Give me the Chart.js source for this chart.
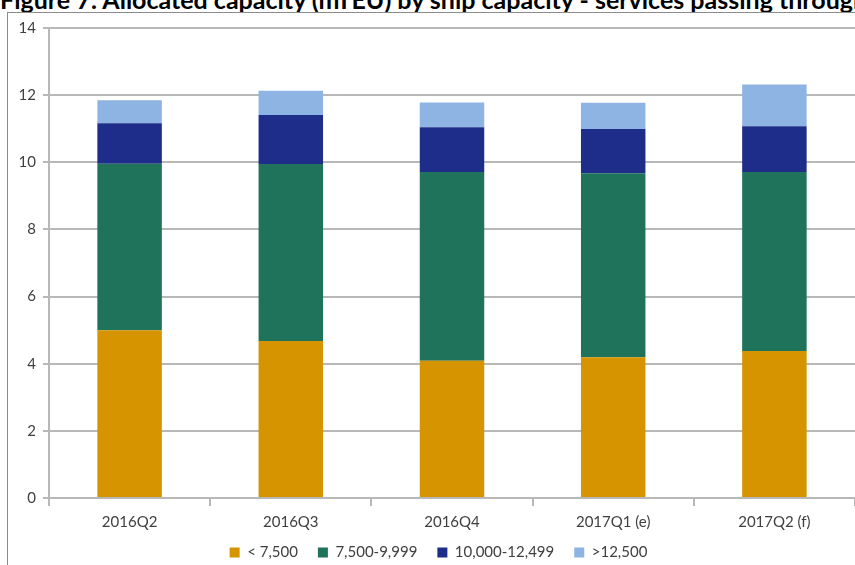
<!DOCTYPE html>
<html>
<head>
<meta charset="utf-8">
<script src="https://cdn.jsdelivr.net/npm/chart.js@4.4.1/dist/chart.umd.min.js"></script>
<style>
  html, body { margin: 0; padding: 0; background: #fff; }
  body { width: 855px; height: 565px; overflow: hidden; position: relative; font-family: Lato, sans-serif; }
  #title { position: absolute; left: 0; top: -16px; font-weight: bold; font-size: 25px; white-space: nowrap; color: #000; }
  #frame { position: absolute; left: 7px; top: 12px; width: 900px; height: 600px; border: 1px solid #8c8c8c; box-sizing: border-box; pointer-events: none; }
  #chart { position: absolute; left: 0; top: 0; }
</style>
</head>
<body>
<div id="title">Figure 7: Allocated capacity (mTEU) by ship capacity - services passing through the Suez Canal</div>
<canvas id="chart" width="855" height="565"></canvas>
<div id="frame"></div>
<script>
// Allocated capacity (mTEU) per quarter, split by ship size band
const quarters = ['2016Q2', '2016Q3', '2016Q4', '2017Q1 (e)', '2017Q2 (f)'];
const under7500 = [5.00, 4.68, 4.09, 4.19, 4.38];
const from7500 = [4.96, 5.27, 5.62, 5.48, 5.33];
const from10000 = [1.20, 1.46, 1.33, 1.32, 1.36];
const over12500 = [0.69, 0.72, 0.74, 0.78, 1.25];
const bandNames = ['< 7,500', '7,500-9,999', '10,000-12,499', '>12,500'];
const yMin = 0, yMax = 14, yStep = 2;

const bandColors = ['#d59400', '#1f735a', '#1f2d8a', '#8eb4e3'];
const textColor = '#404040';
const gridColor = '#b8b8b8';

const bandValues = [under7500, from7500, from10000, over12500];

const datasets = bandValues.map((values, i) => ({
    label: bandNames[i],
    data: values,
    backgroundColor: bandColors[i],
    borderWidth: 0,
    barPercentage: 0.4,
    categoryPercentage: 1.0
}));

// move the legend row a bit right and up from where the layout puts it
const legendShift = {
    id: 'legendShift',
    afterLayout(chart) {
        const lg = chart.legend;
        lg.left += 11;
        lg.right += 11;
        lg.top -= 11;
        lg.bottom -= 11;
    }
};

new Chart(document.getElementById('chart'), {
    type: 'bar',
    data: {
        labels: quarters,
        datasets: datasets
    },
    plugins: [legendShift],
    options: {
        responsive: false,
        animation: false,
        layout: {
            padding: { top: 28, left: 0, right: 0, bottom: -16 }
        },
        plugins: {
            legend: {
                position: 'bottom',
                labels: {
                    boxWidth: 10,
                    boxHeight: 10,
                    padding: 20,
                    color: textColor,
                    font: { family: 'Lato', size: 15 }
                }
            },
            tooltip: { enabled: false }
        },
        scales: {
            x: {
                stacked: true,
                grid: {
                    offset: true,
                    drawOnChartArea: false,
                    drawTicks: true,
                    tickLength: 8,
                    color: gridColor,
                    lineWidth: 2
                },
                border: { color: gridColor, width: 2 },
                ticks: {
                    color: textColor,
                    padding: 7,
                    font: { family: 'Lato', size: 15 }
                },
                afterFit: (scale) => { scale.height = 38; }
            },
            y: {
                stacked: true,
                min: yMin,
                max: yMax,
                grid: {
                    color: gridColor,
                    lineWidth: 2,
                    tickLength: 6
                },
                border: { color: gridColor, width: 2 },
                ticks: {
                    stepSize: yStep,
                    color: textColor,
                    padding: 7,
                    font: { family: 'Lato', size: 15 }
                },
                afterFit: (scale) => { scale.width = 49; }
            }
        }
    }
});
</script>
</body>
</html>
